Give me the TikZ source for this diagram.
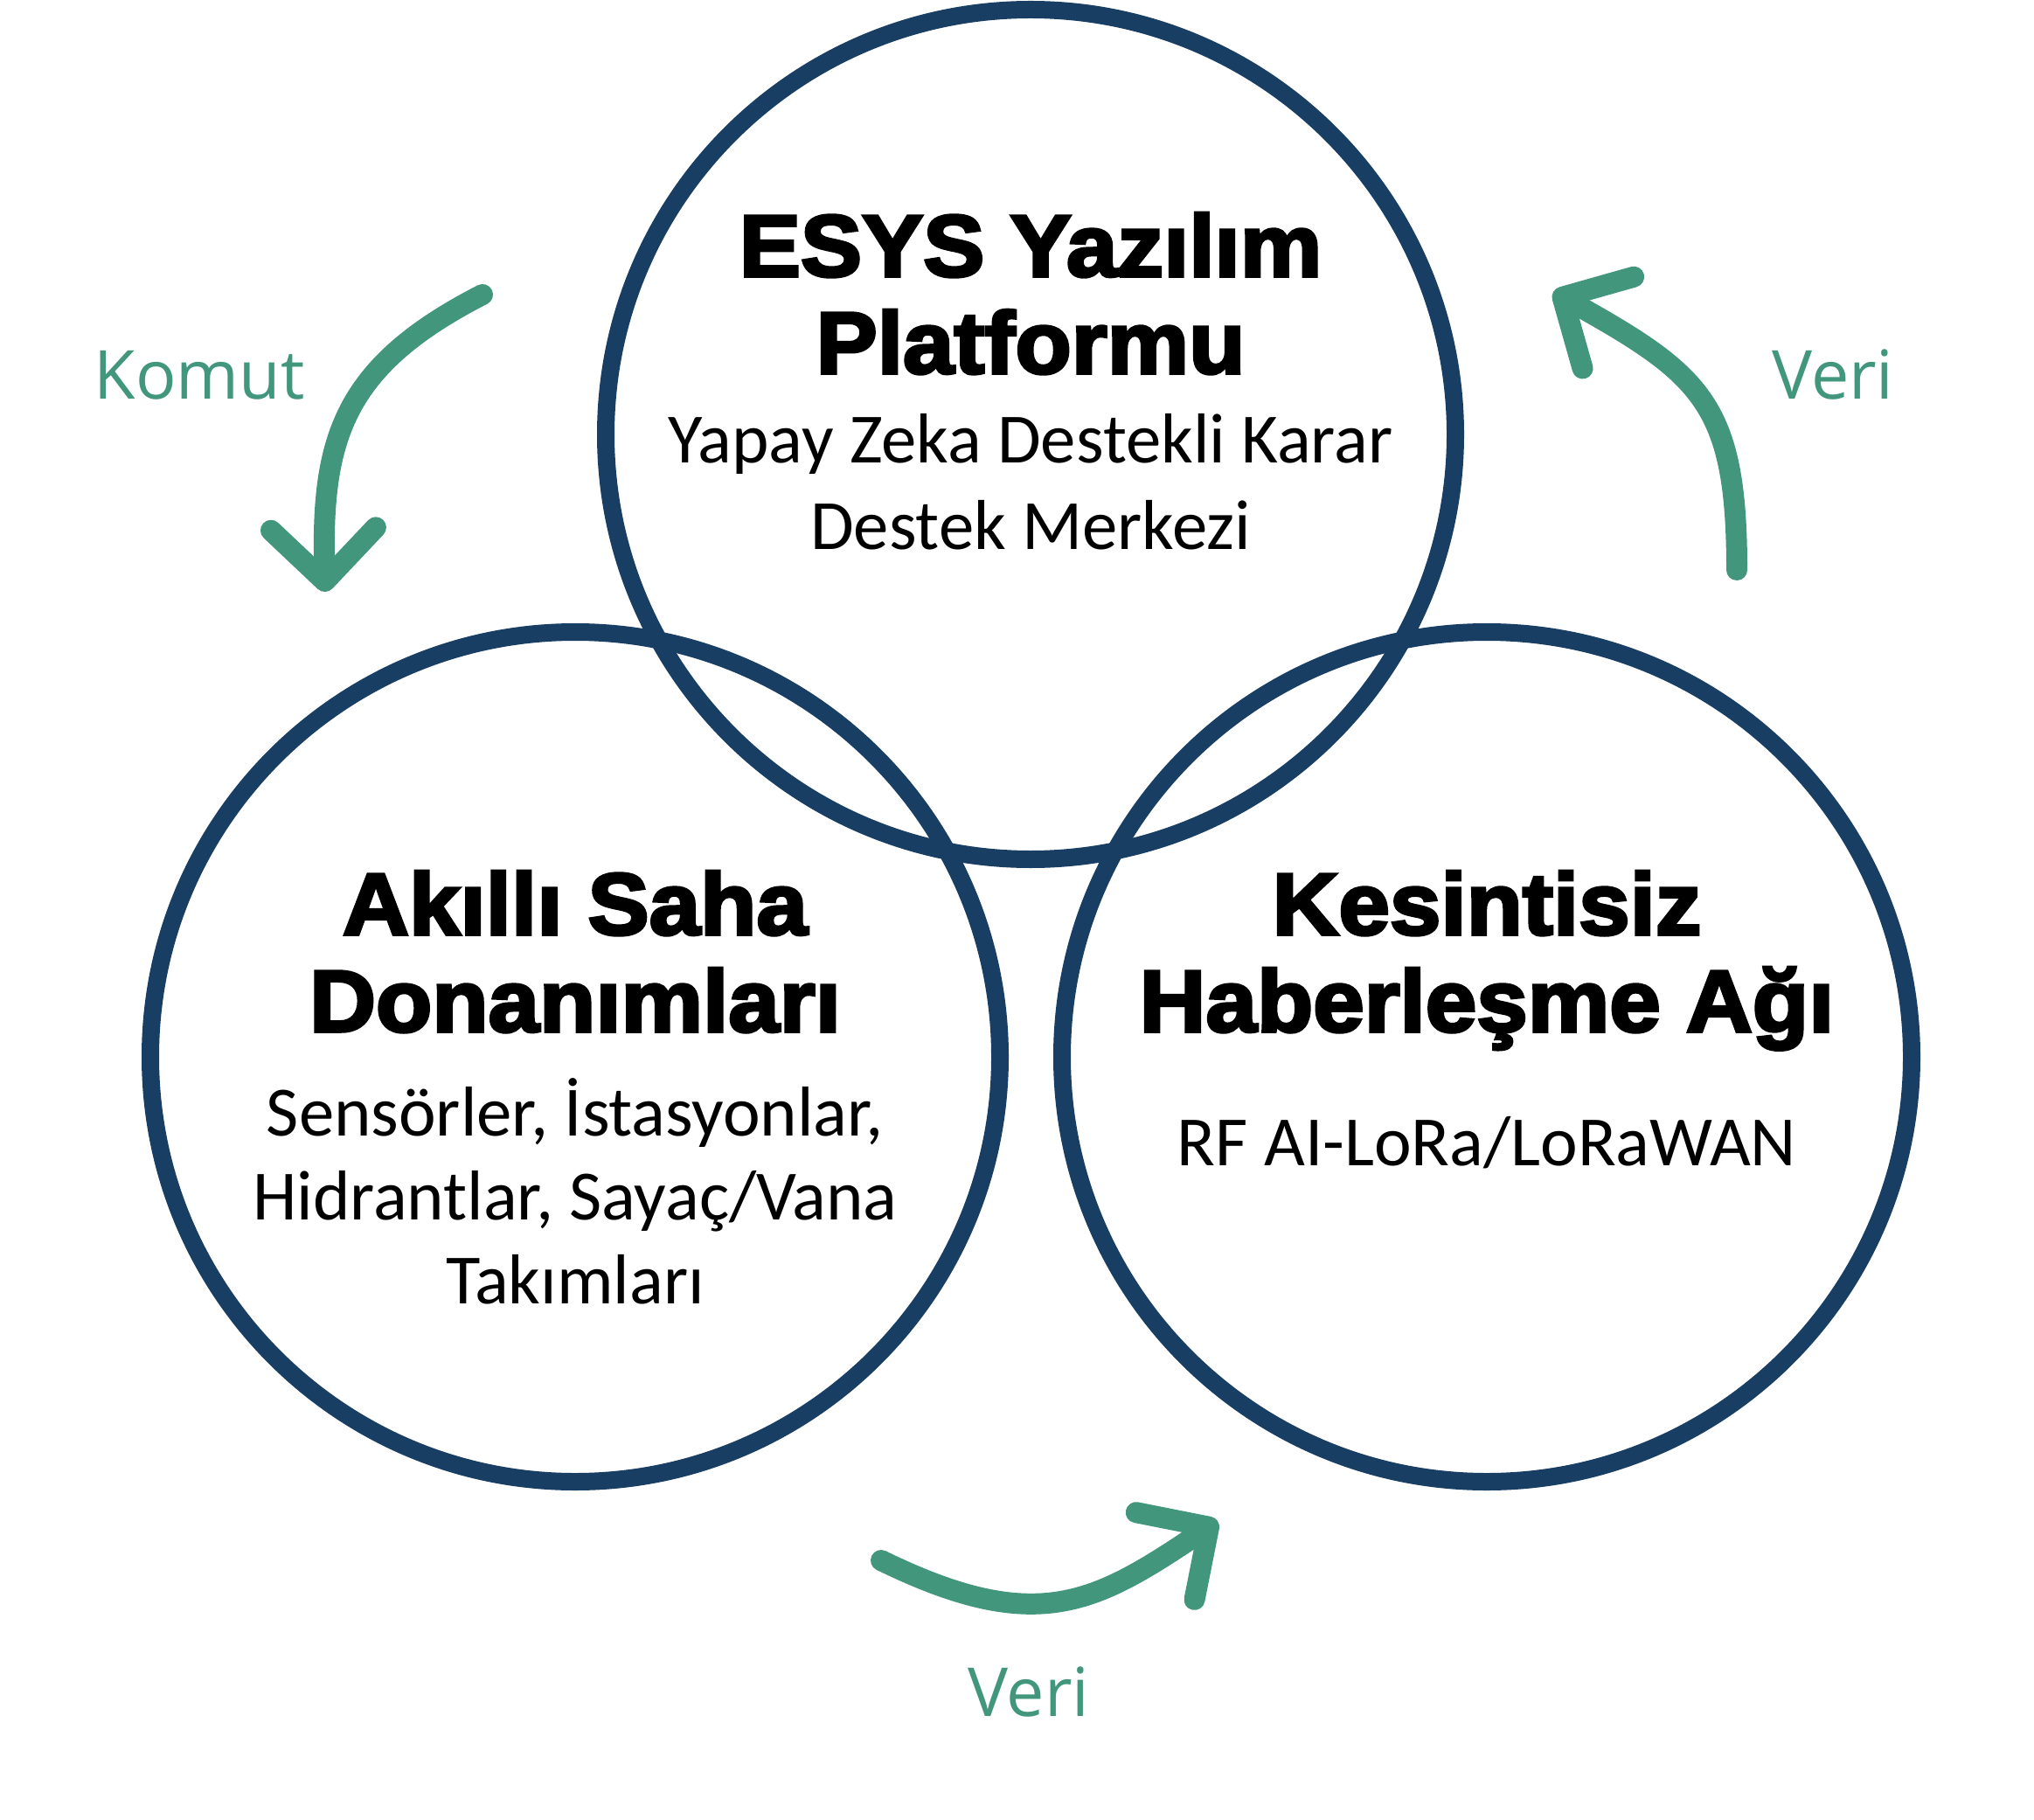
\documentclass[tikz,border=0pt]{standalone}
\usepackage{fontspec}
\setmainfont{Carlito}
\newfontfamily\headfont{Liberation Sans Bold}[FakeBold=3.5, FakeStretch=1.05]
\newfontfamily\tagfont{Open Sans}
\usepackage{tikz}
\usetikzlibrary{arrows.meta}
\usepackage{xcolor}
\definecolor{ringblue}{HTML}{183E64}
\definecolor{flowgreen}{HTML}{41967B}

\tikzset{
  ring/.style={circle, draw=ringblue, line width=2mm, minimum size=9.72cm, inner sep=0pt},
  head/.style={anchor=base, font=\headfont\fontsize{28.5}{30}\selectfont},
  body/.style={anchor=base, font=\fontsize{23}{26}\selectfont},
  tag/.style={anchor=base, text=flowgreen, font=\tagfont\fontsize{22}{24}\selectfont},
  flow/.style={draw=flowgreen, line width=2.4mm, line cap=round,
    -{Straight Barb[length=6mm, width=12mm, round]}}
}

\begin{document}
\begin{tikzpicture}
     \useasboundingbox (0,0) rectangle (23.27,-20.82);

     \node[ring] (esys) at (11.79,-4.97) {};%ust
     \node[ring] (saha) at (6.58,-12.09) {};%sol
     \node[ring] (agi) at (17.01,-12.09) {};%sag

     \node[head] (esysA) at (11.79,-3.16) {ESYS Yazılım};
     \node[head] (esysB) at (11.79,-4.27) {Platformu};
     \node[body] (esysC) at (11.79,-5.30) {Yapay Zeka Destekli Karar};
     \node[body] (esysD) at (11.79,-6.29) {Destek Merkezi};

     \node[head] (sahaA) at (6.58,-10.69) {Akıllı Saha};
     \node[head] (sahaB) at (6.58,-11.80) {Donanımları};
     \node[body] (sahaC) at (6.58,-12.99) {Sensörler, İstasyonlar,};
     \node[body] (sahaD) at (6.58,-13.95) {Hidrantlar, Sayaç/Vana};
     \node[body] (sahaE) at (6.58,-14.91) {Takımları};

     \node[head] (agiA) at (17.01,-10.69) {Kesintisiz};
     \node[head] (agiB) at (17.01,-11.80) {Haberleşme Ağı};
     \node[body] (agiC) at (17.01,-13.33) {RF AI-LoRa/LoRaWAN};

     \node[tag] (komut) at (2.28,-4.57) {Komut};
     \node[tag] (veriA) at (20.97,-4.57) {Veri};
     \node[tag] (veriB) at (11.77,-19.63) {Veri};

     \coordinate (komutS) at (5.52,-3.37);
     \coordinate (komutE) at (3.72,-6.77);
     \coordinate (veriAS) at (19.87,-6.52);
     \coordinate (veriAE) at (17.77,-3.34);
     \coordinate (veriBS) at (10.08,-17.85);
     \coordinate (veriBE) at (13.93,-17.40);

     \draw[flow] (komutS) .. controls (3.92,-4.19) and (3.67,-5.02) .. (komutE);%komut
     \draw[flow] (veriAS) .. controls (19.87,-4.62) and (19.47,-4.29) .. (veriAE);%veri
     \draw[flow] (veriBS) .. controls (11.88,-18.73) and (12.54,-18.33) .. (veriBE);%veri
    \end{tikzpicture}
\end{document}
